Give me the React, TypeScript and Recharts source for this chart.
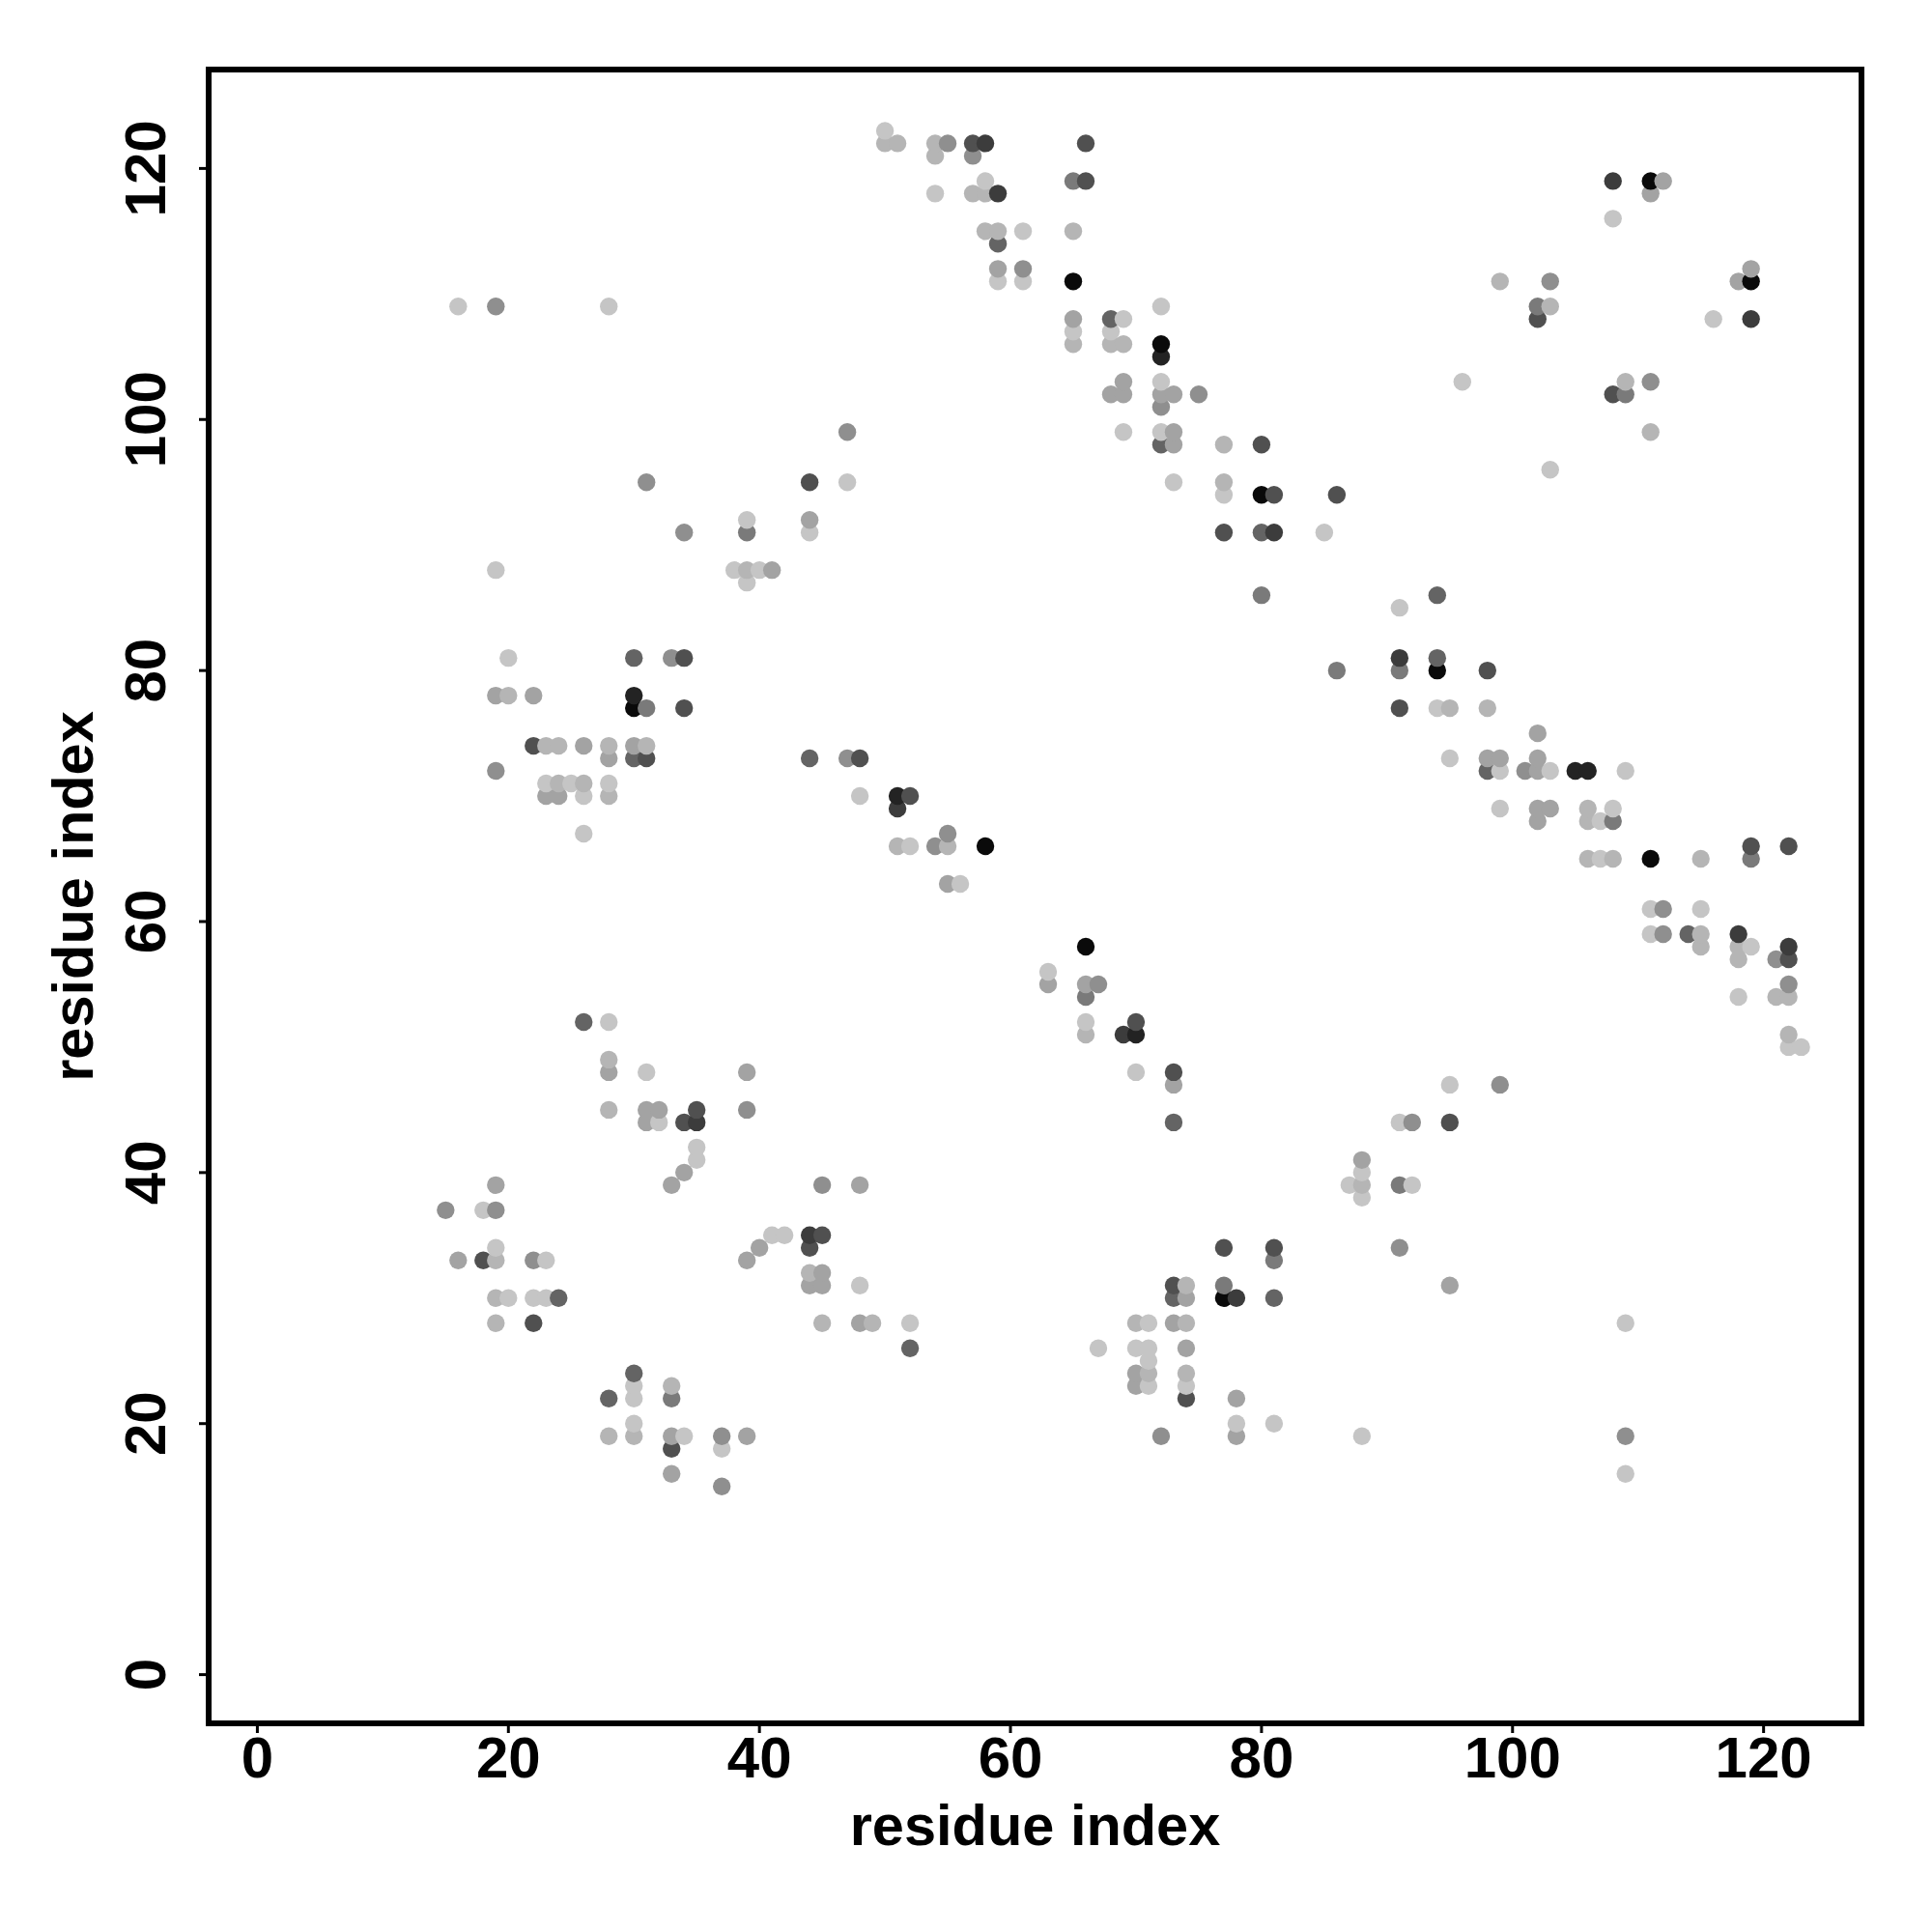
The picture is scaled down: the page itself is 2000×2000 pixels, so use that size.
import { ScatterChart, Scatter, XAxis, YAxis, ReferenceArea } from "recharts";

type Pair = [number, number];

const axisTicks = [0, 20, 40, 60, 80, 100, 120];
const xDomain: [number, number] = [-3.88, 127.8];
const yDomain: [number, number] = [-3.88, 127.88];
const axisTitle = "residue index";

// contact pairs (i, j) grouped by how dark the dot is, darkest first
const shade0: Pair[] = [[111, 119], [65, 111], [119, 111], [72, 106], [80, 94], [94, 80], [30, 77], [58, 66], [111, 65], [66, 58], [77, 30]];
const shade1: Pair[] = [[72, 105], [30, 78], [105, 72], [106, 72], [51, 70], [70, 51]];
const shade2: Pair[] = [[58, 122], [59, 118], [108, 119], [119, 108], [81, 91], [91, 81], [51, 69], [118, 59], [122, 58], [69, 51], [35, 44], [44, 35], [78, 30]];
const shade3: Pair[] = [
  [57, 122], [66, 122], [66, 119], [102, 108], [108, 102], [80, 98], [44, 95], [81, 94], [86, 94], [77, 91], [34, 81], [98, 80],
  [91, 77], [34, 77], [22, 74], [31, 73], [48, 73], [52, 70], [119, 66], [122, 66], [122, 57], [70, 52], [73, 48], [35, 45],
  [34, 44], [95, 44], [45, 35], [44, 34], [77, 34], [81, 34], [73, 31], [18, 33], [22, 28], [33, 18], [74, 22],
];
const shade4: Pair[] = [
  [68, 108], [59, 114], [80, 91], [94, 86], [30, 81], [94, 81], [30, 73], [44, 73], [98, 72], [114, 59], [26, 52], [73, 44],
  [24, 30], [28, 22], [30, 24], [52, 26], [73, 30], [81, 30], [72, 98],
];
const shade5: Pair[] = [[65, 119], [102, 109], [109, 102], [80, 86], [86, 80], [91, 80], [31, 77], [39, 91], [108, 68], [119, 65], [66, 54], [91, 39], [77, 31], [81, 33], [33, 22]];
const shade6: Pair[] = [
  [55, 122], [57, 121], [103, 111], [19, 109], [72, 101], [111, 103], [47, 99], [34, 91], [33, 81], [47, 73], [19, 72], [101, 72],
  [54, 66], [55, 67], [112, 61], [112, 59], [121, 57], [122, 55], [67, 55], [39, 45], [92, 44], [99, 47], [15, 37], [19, 37],
  [22, 33], [45, 39], [37, 19], [37, 15], [72, 19], [91, 34], [109, 19], [61, 112], [75, 102], [31, 95],
];
const shade7: Pair[] = [
  [112, 119], [111, 118], [59, 112], [119, 112], [118, 111], [65, 108], [68, 102], [69, 102], [69, 103], [72, 102], [73, 102],
  [73, 99], [73, 98], [44, 92], [41, 88], [19, 78], [22, 78], [26, 74], [30, 74], [28, 73], [98, 73], [99, 73], [102, 73], [102, 72],
  [102, 75], [23, 70], [24, 70], [102, 69], [103, 69], [102, 68], [55, 63], [63, 55], [66, 55], [73, 47], [28, 48], [39, 48],
  [31, 45], [32, 45], [31, 44], [34, 40], [33, 39], [19, 39], [48, 39], [88, 41], [16, 33], [39, 33], [40, 34], [45, 32], [44, 31],
  [45, 31], [48, 28], [33, 19], [39, 19], [33, 16], [73, 28], [74, 30], [74, 26], [70, 24], [70, 23], [78, 22], [78, 19], [95, 31],
];
const shade8: Pair[] = [
  [50, 122], [51, 122], [54, 122], [57, 118], [58, 118], [58, 115], [59, 115], [65, 115], [54, 121], [99, 111], [103, 109], [65, 106],
  [68, 106], [69, 106], [109, 103], [111, 99], [77, 98], [77, 95], [39, 88], [28, 74], [24, 71], [26, 71], [28, 70], [95, 77], [98, 77],
  [106, 69], [106, 68], [106, 65], [108, 65], [51, 66], [55, 66], [115, 58], [118, 58], [118, 57], [122, 54], [122, 51], [66, 51],
  [28, 49], [28, 45], [88, 39], [19, 33], [19, 30], [19, 28], [33, 23], [28, 19], [30, 19], [44, 32], [45, 28], [49, 28], [70, 28],
  [74, 28], [74, 24], [71, 24], [74, 31], [121, 54], [115, 59], [115, 65], [31, 74], [23, 74], [24, 74], [20, 78],
];
const shade9: Pair[] = [
  [50, 123], [58, 119], [54, 118], [108, 116], [61, 115], [59, 111], [61, 111], [16, 109], [28, 109], [72, 109], [69, 108], [116, 108],
  [65, 107], [68, 107], [72, 103], [96, 103], [69, 99], [72, 99], [103, 96], [47, 95], [73, 95], [77, 94], [39, 92], [44, 91], [85, 91],
  [19, 88], [38, 88], [40, 88], [39, 87], [91, 85], [20, 81], [94, 77], [95, 73], [99, 72], [103, 72], [109, 72], [23, 71], [25, 71],
  [28, 71], [26, 70], [48, 70], [99, 69], [108, 69], [107, 68], [26, 67], [52, 66], [107, 65], [56, 63], [111, 61], [115, 61], [111, 59],
  [119, 58], [63, 56], [118, 54], [66, 52], [28, 52], [122, 50], [123, 50], [31, 48], [70, 48], [95, 47], [32, 44], [35, 42], [35, 41],
  [91, 44], [88, 40], [87, 39], [92, 39], [88, 38], [18, 37], [19, 34], [23, 33], [20, 30], [22, 30], [23, 30], [41, 35], [42, 35],
  [48, 31], [30, 23], [30, 22], [30, 20], [34, 19], [37, 18], [52, 28], [71, 28], [67, 26], [70, 26], [71, 26], [71, 25], [71, 23],
  [74, 23], [78, 20], [81, 20], [88, 19], [109, 28], [109, 16],
];

const shadeGroups = [shade0, shade1, shade2, shade3, shade4, shade5, shade6, shade7, shade8, shade9];
const shadeColors = ["#0a0a0a", "#232323", "#3c3c3c", "#505050", "#646464", "#7a7a7a", "#8f8f8f", "#a3a3a3", "#b5b5b5", "#c5c5c5"];

// drawn in residue order so the overlaps stack like the original
const points = shadeGroups
  .flatMap((group, g) => group.map(([x, y]) => ({ x, y, fill: shadeColors[g] })))
  .sort((a, b) => a.x - b.x || a.y - b.y);

const FONT = '"Liberation Sans", Arial, sans-serif';
const TICK_SIZE = 60;
const TITLE_SIZE = 59.5;
const DOT_RADIUS = 9.2;

function XTick({ x, y, payload }: any) {
  return (
    <text x={x} y={y + 45} textAnchor="middle" fontFamily={FONT} fontWeight="bold" fontSize={TICK_SIZE} fill="#000">
      {payload.value}
    </text>
  );
}

function YTick({ x, y, payload }: any) {
  const bx = x - 34;
  return (
    <text x={bx} y={y} transform={`rotate(-90 ${bx} ${y})`} textAnchor="middle" fontFamily={FONT} fontWeight="bold" fontSize={TICK_SIZE} fill="#000">
      {payload.value}
    </text>
  );
}

function Dot(props: any) {
  return <circle cx={props.cx} cy={props.cy} r={DOT_RADIUS} fill={props.payload?.fill ?? props.fill} />;
}

export default function App() {
  return (
    <div style={{ position: "absolute", left: 0, top: 0, width: 2000, height: 2000, background: "#fff" }}>
      <ScatterChart width={2000} height={2000} margin={{ top: 72, right: 73, left: 0, bottom: 0 }}>
        <ReferenceArea x1={xDomain[0]} x2={xDomain[1]} y1={yDomain[0]} y2={yDomain[1]} fill="none" stroke="#000" strokeWidth={6} />
        <XAxis
          type="number"
          dataKey="x"
          domain={xDomain}
          ticks={axisTicks}
          interval={0}
          height={216}
          axisLine={false}
          tickSize={10}
          tickMargin={1}
          tickLine={{ stroke: "#000", strokeWidth: 3 }}
          tick={<XTick />}
          allowDataOverflow
          label={{ value: axisTitle, position: "insideBottom", offset: 90, fontFamily: FONT, fontWeight: "bold", fontSize: TITLE_SIZE, fill: "#000" }}
        />
        <YAxis
          type="number"
          dataKey="y"
          domain={yDomain}
          ticks={axisTicks}
          interval={0}
          width={216}
          axisLine={false}
          tickSize={10}
          tickMargin={1}
          tickLine={{ stroke: "#000", strokeWidth: 3 }}
          tick={<YTick />}
          allowDataOverflow
          label={{ value: axisTitle, angle: -90, position: "insideLeft", offset: 75, fontFamily: FONT, fontWeight: "bold", fontSize: TITLE_SIZE, fill: "#000", style: { textAnchor: "middle" } }}
        />
        <Scatter data={points} isAnimationActive={false} shape={<Dot />} />
      </ScatterChart>
    </div>
  );
}
